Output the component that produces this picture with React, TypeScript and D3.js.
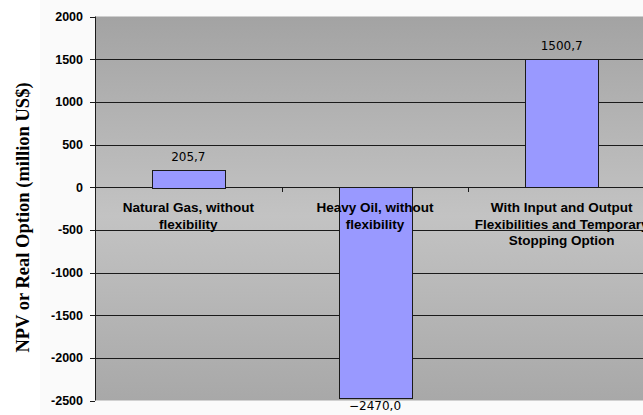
import * as d3 from "d3";

const categories: string[][] = [
  ["Natural Gas, without", "flexibility"],
  ["Heavy Oil, without", "flexibility"],
  ["With Input and Output", "Flexibilities and Temporary", "Stopping Option"],
];
const values = [205.7, -2470.0, 1500.7];
const valueLabels = ["205,7", "\u22122470,0", "1500,7"];
const yTicks = [2000, 1500, 1000, 500, 0, -500, -1000, -1500, -2000, -2500];

const W = 643;
const H = 415;
const plotLeft = 95;
const plotTop = 16.5;
const plotBottom = 400.5;

export default function App() {
  const keys = categories.map((_, i) => String(i));
  const x = d3
    .scaleBand<string>()
    .domain(keys)
    .range([plotLeft, 655])
    .paddingInner(0.61)
    .paddingOuter(0.305);
  const y = d3.scaleLinear().domain([-2500, 2000]).range([plotBottom, plotTop]);
  const step = x.step();
  const zeroY = y(0);

  return (
    <svg
      width={W}
      height={H}
      style={{ position: "absolute", left: 0, top: 0, display: "block" }}
    >
      <defs>
        <linearGradient id="plotBg" x1="0" y1="0" x2="0" y2="1">
          <stop offset="0%" stopColor="#a3a3a3" />
          <stop offset="52%" stopColor="#c3c3c3" />
          <stop offset="100%" stopColor="#a8a8a8" />
        </linearGradient>
      </defs>
      <rect x={0} y={0} width={W} height={H} fill="#ffffff" />
      <rect x={40} y={0} width={W - 40} height={H} fill="#fafafa" />
      <rect
        x={plotLeft}
        y={plotTop}
        width={W - plotLeft}
        height={plotBottom - plotTop}
        fill="url(#plotBg)"
      />

      {/* gridlines */}
      {yTicks
        .filter((t) => t !== 2000 && t !== -2500)
        .map((t) => (
          <line
            key={"g" + t}
            x1={plotLeft}
            x2={W}
            y1={Math.round(y(t)) + 0.5}
            y2={Math.round(y(t)) + 0.5}
            stroke="#1a1a1a"
            strokeWidth={1}
          />
        ))}

      {/* bars */}
      {values.map((v, i) => {
        const y0 = y(Math.max(0, v));
        const y1 = y(Math.min(0, v));
        return (
          <rect
            key={"b" + i}
            x={Math.round(x(keys[i])!) + 0.5}
            y={Math.round(y0) + 0.5}
            width={Math.round(x.bandwidth())}
            height={Math.round(y1 - y0)}
            fill="#9999ff"
            stroke="#1a1a1a"
            strokeWidth={1}
          />
        );
      })}

      {/* y axis */}
      <line x1={plotLeft + 0.5} x2={plotLeft + 0.5} y1={plotTop} y2={plotBottom} stroke="#1a1a1a" />
      {yTicks.map((t) => (
        <g key={"t" + t}>
          <line
            x1={plotLeft - 5}
            x2={plotLeft}
            y1={Math.round(y(t)) + 0.5}
            y2={Math.round(y(t)) + 0.5}
            stroke="#1a1a1a"
          />
          <text
            x={plotLeft - 12}
            y={y(t) + 4.5}
            textAnchor="end"
            fontFamily="'Liberation Sans', Arial, sans-serif"
            fontWeight="bold"
            fontSize={12.5}
            fill="#000"
          >
            {t}
          </text>
        </g>
      ))}

      {/* x axis ticks at category boundaries */}
      {keys.map((k) => {
        const bx = Math.round(x(k)! - (step - x.bandwidth()) / 2) + 0.5;
        return (
          <line
            key={"x" + k}
            x1={bx}
            x2={bx}
            y1={Math.round(zeroY) + 0.5}
            y2={Math.round(zeroY) + 5}
            stroke="#1a1a1a"
          />
        );
      })}

      {/* category labels */}
      {categories.map((lines, i) => (
        <text
          key={"c" + i}
          textAnchor="middle"
          fontFamily="'Liberation Sans', Arial, sans-serif"
          fontWeight="bold"
          fontSize={13.5}
          fill="#000"
        >
          {lines.map((ln, j) => (
            <tspan key={j} x={x(keys[i])! + x.bandwidth() / 2} y={zeroY + 25 + j * 16.5}>
              {ln}
            </tspan>
          ))}
        </text>
      ))}

      {/* value labels */}
      {values.map((v, i) => (
        <text
          key={"v" + i}
          x={x(keys[i])! + x.bandwidth() / 2}
          y={v >= 0 ? y(v) - 9 : y(v) + 12}
          textAnchor="middle"
          fontFamily="'DejaVu Sans', Verdana, sans-serif"
          fontSize={12}
          fill="#000"
        >
          {valueLabels[i]}
        </text>
      ))}

      {/* y title */}
      <text
        transform={`translate(29, ${(plotTop + plotBottom) / 2 + 9}) rotate(-90)`}
        textAnchor="middle"
        fontFamily="'Liberation Serif', 'Times New Roman', serif"
        fontWeight="bold"
        fontSize={18.5}
        fill="#000"
      >
        NPV or Real Option (million US$)
      </text>
    </svg>
  );
}
